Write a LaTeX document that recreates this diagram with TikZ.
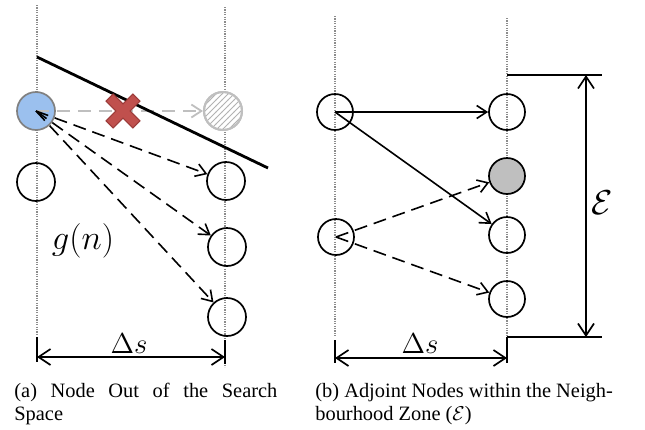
\documentclass[tikz,border=0pt]{standalone}
\usepackage{fontspec}
\setmainfont{Liberation Serif}
\usetikzlibrary{arrows.meta,patterns}
\definecolor{xred}{HTML}{C0504D}
\definecolor{xredd}{HTML}{9B3B39}
\definecolor{nodeblue}{HTML}{9BC0EE}
\definecolor{lgray}{HTML}{BFBFBF}
\tikzset{
  guide/.style={black!45, line width=0.6pt, dash pattern=on 0.6pt off 0.6pt},
  ball/.style={circle, draw=black, line width=0.85pt, minimum size=19pt, inner sep=0pt},
  ballb/.style={ball, minimum size=18pt},
  arr/.style={line width=0.8pt, -{Straight Barb[length=5pt,width=6.5pt]}},
  darr/.style={arr, dash pattern=on 6.5pt off 3.5pt},
  dimarr/.style={line width=0.85pt, {Straight Barb[length=6pt,width=8pt]}-{Straight Barb[length=6pt,width=8pt]}},
  dimtick/.style={line width=0.85pt},
  captext/.style={font=\fontsize{10.2}{11}\selectfont, inner sep=0pt, anchor=base west},
  mlabel/.style={inner sep=0pt, anchor=base}
}
\begin{document}
\begin{tikzpicture}[x=0.5pt,y=-0.5pt]
\useasboundingbox (0,0) rectangle (645,430);

% ---------------- panel (a) ----------------
\coordinate (aLt) at (37,5);   \coordinate (aLb) at (37,334);
\coordinate (aRt) at (225,7);  \coordinate (aRb) at (225,367);
\draw[guide] (aLt) -- (aLb);
\draw[guide] (aRt) -- (aRb);

\node[ball, draw=black!50, fill=nodeblue] (blue) at (36,111) {};
\node[ball, draw=lgray, line width=1pt, fill=white] (hatch) at (223,111) {};
\path[pattern=north east lines, pattern color=black!30] (hatch.center) circle (9pt);
\node[ball, draw=lgray, line width=1pt] at (223,111) {};
\node[ball] (aL2) at (36,182) {};
\node[ball] (aR1) at (226,181) {};
\node[ball] (aR2) at (227,247) {};
\node[ball] (aR3) at (227,317) {};

% gray dashed arrow (blocked)
\draw[arr, lgray, line width=0.9pt, dash pattern=on 6.5pt off 4pt] (blue.center) -- (hatch);
% boundary line
\coordinate (bnd1) at (37,57);
\coordinate (bnd2) at (268,168);
\draw[line width=1.4pt] (bnd1) -- (bnd2);
% red cross
\begin{scope}[shift={(123,111)}, rotate=45]
  \filldraw[fill=xred, draw=xredd, line width=0.5pt]
    (5,5) -- (5,19) -- (-5,19) -- (-5,5) -- (-19,5) -- (-19,-5) -- (-5,-5)
    -- (-5,-19) -- (5,-19) -- (5,-5) -- (19,-5) -- (19,5) -- cycle;
\end{scope}
% dashed arrows
\draw[darr] (blue.center) -- (aR1);
\draw[darr] (blue.center) -- (aR2);
\draw[darr] (blue.center) -- (aR3);

\node[mlabel, font=\fontsize{16.5}{16.5}\selectfont] (gn) at (83,249) {$g(n)$};

% dimension delta s
\coordinate (aD1) at (37,357); \coordinate (aD2) at (225,357);
\draw[dimtick] (37,337) -- (37,362);
\draw[dimtick] (225,340) -- (225,364);
\draw[dimarr] (aD1) -- (aD2);
\node[mlabel, font=\fontsize{15}{15}\selectfont] (ads) at (129,353) {$\Delta s$};

\node[captext] (capa1) at (14,397) {\makebox[131.5pt][s]{(a) Node Out of the Search}};
\node[captext] (capa2) at (14,420) {Space};

% ---------------- panel (b) ----------------
\coordinate (bLt) at (335,16);  \coordinate (bLb) at (335,336);
\coordinate (bRt) at (507,18);  \coordinate (bRb) at (507,343);
\draw[guide] (bLt) -- (bLb);
\draw[guide] (bRt) -- (bRb);

\node[ballb] (bL1) at (335,112) {};
\node[ballb] (bL2) at (336,237) {};
\node[ballb] (bR1) at (507,112) {};
\node[ballb, fill=lgray] (bR2) at (507,176) {};
\node[ballb] (bR3) at (507,235) {};
\node[ballb] (bR4) at (507,299) {};

\draw[arr] (bL1.center) -- (bR1);
\draw[arr] (bL1.center) -- (bR3);
\draw[darr] (bL2.center) -- (bR2);
\draw[darr] (bL2.center) -- (bR4);

% epsilon dimension
\draw[dimtick] (507,75) -- (602,75);
\draw[dimtick] (507,337) -- (602,337);
\coordinate (eT) at (586,75); \coordinate (eB) at (586,337);
\draw[dimarr] (eT) -- (eB);
\node[font=\fontsize{17}{17}\selectfont, inner sep=0pt] (eps) at (602,203) {$\mathcal{E}$};

% delta s
\coordinate (bD1) at (335,358); \coordinate (bD2) at (507,358);
\draw[dimtick] (335,340) -- (335,363);
\draw[dimtick] (507,337) -- (507,363);
\draw[dimarr] (bD1) -- (bD2);
\node[mlabel, font=\fontsize{15}{15}\selectfont] (bds) at (420,353) {$\Delta s$};

\node[captext] (capb1) at (315,397) {(b) Adjoint Nodes within the Neigh-};
\node[captext] (capb2) at (315,420) {bourhood Zone ($\mathcal{E}$)};
\end{tikzpicture}
\end{document}
